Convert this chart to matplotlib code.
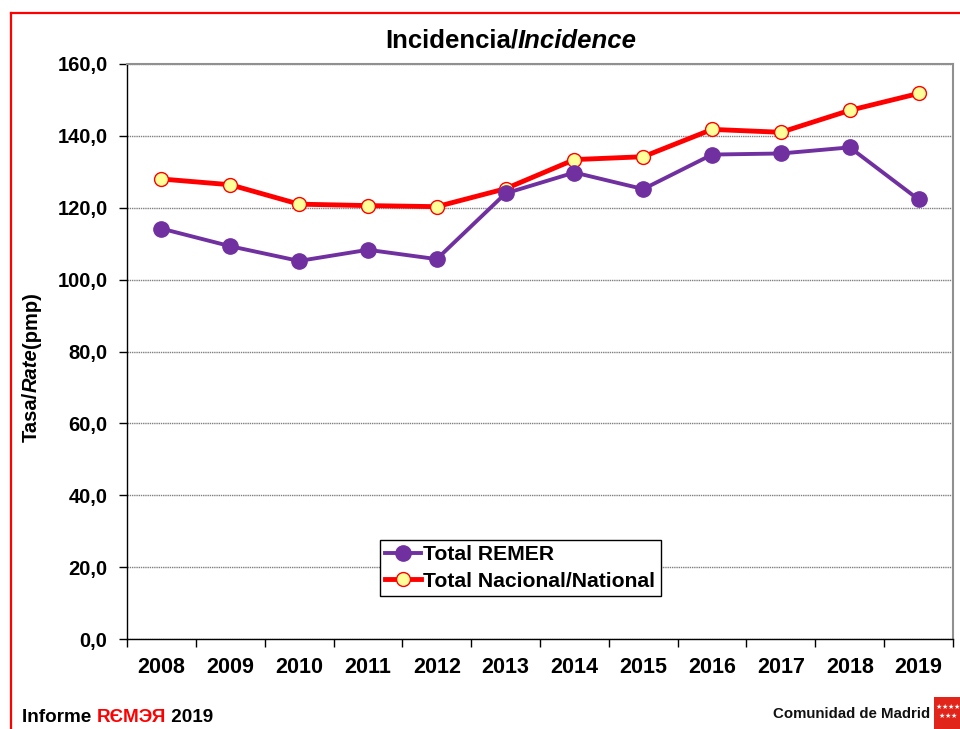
import matplotlib
matplotlib.use("Agg")
import matplotlib.pyplot as plt
from matplotlib.lines import Line2D
from matplotlib.patches import Rectangle

years = ["2008", "2009", "2010", "2011", "2012", "2013", "2014", "2015", "2016", "2017", "2018", "2019"]
remer = [114.2, 109.3, 105.2, 108.3, 105.7, 124.0, 129.8, 125.2, 134.8, 135.1, 136.8, 122.3]
nacional = [128.0, 126.4, 121.0, 120.6, 120.3, 125.3, 133.4, 134.2, 141.8, 141.0, 147.1, 151.8]
yticks = [0, 20, 40, 60, 80, 100, 120, 140, 160]
ytick_labels = ["0,0", "20,0", "40,0", "60,0", "80,0", "100,0", "120,0", "140,0", "160,0"]

FONT = "Liberation Sans"
W, H = 960, 729
fig = plt.figure(figsize=(9.6, 7.29), dpi=100)
fig.patch.set_facecolor("white")

def fx(px):
    return px / W

def fy(py):
    return 1 - py / H

ax = fig.add_axes([fx(127), fy(639), fx(953) - fx(127), fy(64) - fy(639)])
x = list(range(len(years)))
ax.plot(x, nacional, color="#FF0000", lw=3.5, marker="o", ms=10,
        mfc="#FFFF99", mec="#FF0000", mew=1.0, zorder=3, label="Total Nacional/National")
ax.plot(x, remer, color="#7030A0", lw=2.8, marker="o", ms=11,
        mfc="#7030A0", mec="#7030A0", zorder=4, label="Total REMER")

ax.set_xlim(-0.5, len(years) - 0.5)
ax.set_ylim(0, 160)
ax.set_yticks(yticks)
ax.set_yticklabels(ytick_labels, fontfamily=FONT, fontweight="bold", fontsize=14.5)
ax.set_xticks(x)
ax.set_xticklabels(years, fontfamily=FONT, fontweight="bold", fontsize=15.5)
ax.set_xticks([i + 0.5 for i in range(-1, len(years))], minor=True)
ax.tick_params(axis="x", which="major", length=0, pad=13)
ax.tick_params(axis="x", which="minor", length=6, width=1, direction="out", color="black")
ax.tick_params(axis="y", length=6, width=1, direction="out", pad=8)
ax.yaxis.grid(True, color="#808080", linestyle=(0, (1, 0.6)), lw=1.0)
ax.set_axisbelow(True)
for s in ["top", "right"]:
    ax.spines[s].set_color("#909090")
    ax.spines[s].set_linewidth(1.5)
for s in ["left", "bottom"]:
    ax.spines[s].set_color("black")
    ax.spines[s].set_linewidth(1.0)

handles, labels = ax.get_legend_handles_labels()
leg = ax.legend(handles[::-1], labels[::-1], loc="upper left",
                bbox_to_anchor=(fx(380), fy(540)), bbox_transform=fig.transFigure,
                prop={"family": FONT, "weight": "bold", "size": 15.2},
                frameon=True, fancybox=False, edgecolor="black", framealpha=1,
                borderpad=0.25, labelspacing=0.36, handlelength=1.7, handletextpad=0.1,
                borderaxespad=0)
leg.get_frame().set_linewidth(1.0)

fig.canvas.draw()
renderer = fig.canvas.get_renderer()

def pieces_h(parts, x0, y0, ha="left", va="center", size=14):
    texts = []
    for t, style, weight, col in parts:
        tt = fig.text(0, y0, t, fontfamily=FONT, fontstyle=style, fontweight=weight,
                      fontsize=size, color=col, ha="left", va=va)
        texts.append(tt)
    widths = [tt.get_window_extent(renderer).width for tt in texts]
    total = sum(widths)
    start = x0 * W
    if ha == "center":
        start -= total / 2
    elif ha == "right":
        start -= total
    cur = start
    for tt, w in zip(texts, widths):
        tt.set_x(cur / W)
        cur += w
    return texts

# Title
pieces_h([("Incidencia/", "normal", "bold", "black"), ("Incidence", "italic", "bold", "black")],
         fx(511), fy(41), ha="center", size=18.5)

# Y label (rotated, mixed styles)
ylab = [("Tasa/", "normal"), ("Rate", "italic"), ("(pmp)", "normal")]
txts = []
for t, style in ylab:
    tt = fig.text(fx(31), 0, t, fontfamily=FONT, fontstyle=style, fontweight="bold",
                  fontsize=14.5, rotation=90, ha="center", va="center")
    txts.append(tt)
hs = [tt.get_window_extent(renderer).height for tt in txts]
cur = (H - 367) - sum(hs) / 2
for tt, h in zip(txts, hs):
    tt.set_y((cur + h / 2) / H)
    cur += h

# Footer
pieces_h([("Informe ", "normal", "bold", "black"), ("RЄMЭЯ", "normal", "bold", "#FF0000"),
          (" 2019", "normal", "bold", "black")], fx(22), fy(718), size=13.6)
fig.text(fx(930), fy(714), "Comunidad de Madrid", fontfamily=FONT, fontweight="heavy",
         fontsize=10.8, ha="right", va="center", color="#111111")

# Logo flag
fig.patches.append(Rectangle((fx(934), 0), fx(960) - fx(934), fy(697), transform=fig.transFigure,
                             facecolor="#E1251B", edgecolor="none"))
for row, py in enumerate([707, 716]):
    for i in range(4 if row == 0 else 3):
        px = 939 + i * 6 + (3 if row == 1 else 0)
        fig.text(fx(px), fy(py), "★", fontsize=5, color="white", ha="center", va="center",
                 fontfamily="DejaVu Sans")

# Red border
fig.add_artist(Line2D([fx(11), fx(11)], [fy(12.5), 0], transform=fig.transFigure,
                      color="#FF0000", lw=1.6))
fig.add_artist(Line2D([fx(11), 1], [fy(12.5), fy(12.5)], transform=fig.transFigure,
                      color="#FF0000", lw=1.6))

fig.savefig("out.png", dpi=100)
